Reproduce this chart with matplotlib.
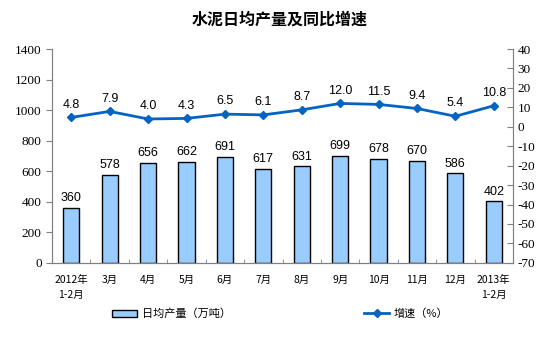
import matplotlib
matplotlib.use("Agg")
import matplotlib.pyplot as plt
from matplotlib.patches import Patch
from matplotlib.lines import Line2D
import numpy as np

plt.rcParams["font.family"] = ["Noto Sans CJK SC", "DejaVu Sans"]
plt.rcParams["axes.unicode_minus"] = False

months = ["2012年\n1-2月", "3月", "4月", "5月", "6月", "7月", "8月",
          "9月", "10月", "11月", "12月", "2013年\n1-2月"]
output = [360, 578, 656, 662, 691, 617, 631, 699, 678, 670, 586, 402]
growth = [4.8, 7.9, 4.0, 4.3, 6.5, 6.1, 8.7, 12.0, 11.5, 9.4, 5.4, 10.8]
left_ticks = list(range(0, 1401, 200))
right_ticks = list(range(-70, 41, 10))

bar_color = "#99CCFF"
line_color = "#0563C1"
grey = "#808080"

fig = plt.figure(figsize=(5.6, 3.5), dpi=100)
ax = fig.add_axes([0.093, 0.249, 0.823, 0.611])
ax2 = ax.twinx()

x = np.arange(len(months))
ax.bar(x, output, width=0.42, color=bar_color, edgecolor="black", linewidth=1.0, zorder=2)
for xi, v in zip(x, output):
    ax.text(xi, v + 25, f"{v}", ha="center", va="bottom", fontsize=9,
            family="Liberation Sans")

ax2.plot(x, growth, color=line_color, lw=2, marker="D", ms=4.5, zorder=3)
for xi, v in zip(x, growth):
    ax2.text(xi, v + 3.5, f"{v:.1f}", ha="center", va="bottom", fontsize=9,
             family="Liberation Sans")

ax.set_xlim(-0.5, len(months) - 0.5)
ax.set_ylim(0, 1400)
ax.set_yticks(left_ticks)
ax.set_yticklabels([str(t) for t in left_ticks], fontfamily="Liberation Serif",
                   fontsize=9.5)
ax2.set_ylim(-70, 40)
ax2.set_yticks(right_ticks)
ax2.set_yticklabels([str(t) for t in right_ticks], fontfamily="Liberation Serif",
                    fontsize=9.5)

for a in (ax, ax2):
    a.spines["top"].set_visible(False)
    for s in ("left", "right", "bottom"):
        a.spines[s].set_color(grey)
ax.tick_params(axis="y", direction="out", length=4, color=grey)
ax2.tick_params(axis="y", direction="in", length=4, color=grey)

ax.set_xticks(x)
ax.set_xticklabels(months, fontsize=7.5, linespacing=1.6)
ax.tick_params(axis="x", length=0, pad=9)
ax.set_xticks(np.arange(0.5, len(months) - 0.5), minor=True)
ax.tick_params(axis="x", which="minor", direction="in", length=3, color=grey)

fig.text(0.5, 0.945, "水泥日均产量及同比增速", ha="center", va="center",
         fontsize=11.5, fontweight="bold")

h1 = Patch(facecolor=bar_color, edgecolor="black", label="日均产量（万吨）")
h2 = Line2D([0], [0], color=line_color, lw=2, marker="D", ms=4.5, label="增速（%）")
fig.legend(handles=[h1, h2], loc="center", bbox_to_anchor=(0.5, 0.103), ncol=2,
           frameon=False, fontsize=8, columnspacing=12, handlelength=2.3,
           handletextpad=0.4)

fig.savefig("out.png", dpi=100)
